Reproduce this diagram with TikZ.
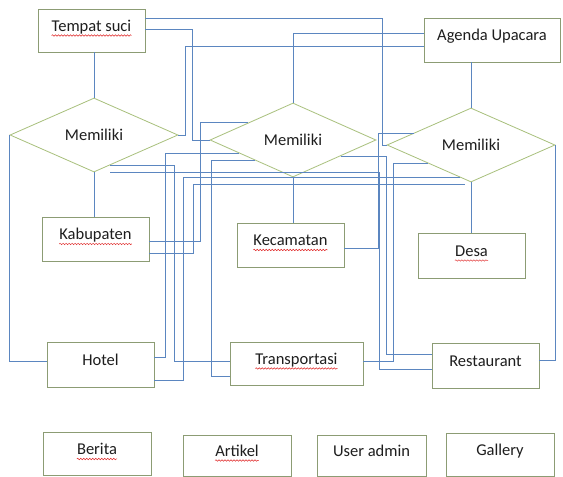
\documentclass[tikz,border=0pt]{standalone}
\usepackage{fontspec}
\setmainfont{Carlito}
\usetikzlibrary{shapes.geometric,calc,decorations.pathmorphing}
\definecolor{linkblue}{HTML}{5B86C0}
\definecolor{boxline}{HTML}{8C9C74}
\definecolor{diaedge}{HTML}{A8C07C}
\definecolor{inkgrey}{HTML}{1E1E1E}
\definecolor{spellred}{HTML}{E02828}
\newcommand\erdfont{\fontsize{16.5}{19}\selectfont}
\newlength\partw

\begin{document}
\begin{tikzpicture}[x=1pt,y=-1pt,
  entity/.style={draw=boxline, line width=0.8pt, fill=white, inner sep=0pt},
  word/.style={inner sep=0pt, text=inkgrey, font=\erdfont, text height=1.5ex, text depth=.25ex},
  relation/.style={diamond, draw=diaedge, line width=0.8pt, fill=white, inner sep=0pt,
    minimum width=168pt, minimum height=74pt, text=inkgrey, font=\erdfont},
  link/.style={draw=linkblue, line width=0.75pt},
  squig/.style={draw=spellred, line width=0.5pt, decorate,
    decoration={snake, amplitude=0.7pt, segment length=3pt}}
]
\useasboundingbox (0,0) rectangle (563,477);
\fill[white] (0,0) rectangle (563,477);

% entities
\node[entity, minimum width=107pt, minimum height=43pt] (ts) at (91.5,30.5) {};
\node[word] (tsW) at ([yshift=2pt]ts.center) {Tempat suci};
\node[entity, minimum width=136pt, minimum height=44pt] (au) at (492,40) {};
\node[word] (auW) at ([yshift=2pt]au.center) {Agenda Upacara};

\node[entity, minimum width=107pt, minimum height=44pt] (kab) at (95.5,239) {};
\node[word] (kabW) at ([yshift=2pt]kab.center) {Kabupaten};
\node[entity, minimum width=107pt, minimum height=44pt] (kec) at (290.5,245) {};
\node[word] (kecW) at ([yshift=2pt]kec.center) {Kecamatan};
\node[entity, minimum width=107pt, minimum height=45pt] (desa) at (471.5,255.5) {};
\node[word] (desaW) at ([yshift=2pt]desa.center) {Desa};

\node[entity, minimum width=107pt, minimum height=45pt] (hotel) at (100.5,364.5) {};
\node[word] (hotelW) at ([yshift=2pt]hotel.center) {Hotel};
\node[entity, minimum width=133pt, minimum height=43pt] (trans) at (296.5,363.5) {};
\node[word] (transW) at ([yshift=2pt]trans.center) {Transportasi};
\node[entity, minimum width=107pt, minimum height=45pt] (rest) at (485.5,365.5) {};
\node[word] (restW) at ([yshift=2pt]rest.center) {Restaurant};

\node[entity, minimum width=108pt, minimum height=43pt] (berita) at (97,454) {};
\node[word] (beritaW) at ([yshift=2pt]berita.center) {Berita};
\node[entity, minimum width=108pt, minimum height=41pt] (artikel) at (237,455.5) {};
\node[word] (artikelW) at ([yshift=2pt]artikel.center) {Artikel};
\node[entity, minimum width=109pt, minimum height=41pt] (useradm) at (371.5,455.5) {};
\node[word] (useradmW) at ([yshift=2pt]useradm.center) {User admin};
\node[entity, minimum width=108pt, minimum height=43pt] (gallery) at (500,454.5) {};
\node[word] (galleryW) at ([yshift=2pt]gallery.center) {Gallery};

% relationships
\node[relation] (d1) at (94,135) {Memiliki};
\node[relation, minimum width=166pt] (d2) at (293,140) {Memiliki};
\node[relation] (d3) at (471,145) {Memiliki};

% spelling marks under words
\draw[squig] ([yshift=-4pt]tsW.base west) -- ([yshift=-4pt]tsW.base east);
\settowidth{\partw}{\erdfont Upacara}
\draw[squig] ([yshift=-4pt]auW.base east) -- ++(-\partw,0);
\draw[squig] ([yshift=-4pt]kabW.base west) -- ([yshift=-4pt]kabW.base east);
\draw[squig] ([yshift=-4pt]kecW.base west) -- ([yshift=-4pt]kecW.base east);
\draw[squig] ([yshift=-4pt]desaW.base west) -- ([yshift=-4pt]desaW.base east);
\draw[squig] ([yshift=-4pt]transW.base west) -- ([yshift=-4pt]transW.base east);
\draw[squig] ([yshift=-4pt]beritaW.base west) -- ([yshift=-4pt]beritaW.base east);
\draw[squig] ([yshift=-4pt]artikelW.base west) -- ([yshift=-4pt]artikelW.base east);

% points on the diamond edges
\coordinate (e12) at ($(d2.west)!0.46!(d2.north)$);
\coordinate (e14) at ($(d2.west)!0.35!(d2.south)$);
\coordinate (e15) at ($(d1.east)!0.81!(d1.south)$);
\coordinate (e16) at ($(d3.west)!0.865!(d3.south)$);
\coordinate (e17) at ($(d2.west)!0.54!(d2.south)$);
\coordinate (e19) at ($(d2.east)!0.43!(d2.south)$);
\coordinate (e20) at ($(d3.west)!0.49!(d3.south)$);
\coordinate (e21) at ($(d3.west)!0.32!(d3.north)$);

% connectors
\draw[link] ([yshift=12.5pt]ts.east) -| ([xshift=-4pt]d3.west) -- (d3.west);
\draw[link] ([yshift=1.5pt]ts.east) -| ([xshift=-17pt]d2.west) -- (d2.west);
\draw[link] ([yshift=-6pt]au.west) -| ([xshift=7pt]d1.east) -- (d1.east);
\draw[link] ([yshift=7pt]au.west) -| (d2.north);
\draw[link] (d3.north |- au.south) -- (d3.north);
\draw[link] (d1.north |- ts.south) -- (d1.north);
\draw[link] (d1.south) -- (d1.south |- kab.north);
\draw[link] (d2.south) -- (d2.south |- kec.north);
\draw[link] (d3.south) -- (d3.south |- desa.north);
\draw[link] (d1.west) |- ([yshift=3.5pt]hotel.west);
\draw[link] (d3.east) |- ([yshift=5.5pt]rest.east);
\draw[link] ([yshift=-2pt]kab.east) -- ++(51,0) |- (e12);
\draw[link] ([yshift=-14pt]kab.east) -- ++(44,0) |- ([xshift=-6pt,yshift=-2pt]d3.south);
\draw[link] (e14) -| ([xshift=11pt,yshift=7.5pt]hotel.east) -- ([yshift=7.5pt]hotel.east);
\draw[link] (e15) -| ([xshift=-55pt,yshift=2.5pt]trans.west) -- ([yshift=2.5pt]trans.west);
\draw[link] (e16) -| ([xshift=29pt,yshift=-15.5pt]hotel.east) -- ([yshift=-15.5pt]hotel.east);
\draw[link] (e17) -| ([xshift=-18pt,yshift=-12.5pt]trans.west) -- ([yshift=-12.5pt]trans.west);
\draw[link] ([xshift=16pt]d1.south) -| ([xshift=-52pt,yshift=-3.5pt]rest.west) -- ([yshift=-3.5pt]rest.west);
\draw[link] (e19) -| ([xshift=-45pt,yshift=11.5pt]rest.west) -- ([yshift=11.5pt]rest.west);
\draw[link] (e20) -| ([xshift=30pt,yshift=2.5pt]trans.east) -- ([yshift=2.5pt]trans.east);
\draw[link] (e21) -| ([xshift=34pt,yshift=-3pt]kec.east) -- ([yshift=-3pt]kec.east);
\end{tikzpicture}
\end{document}
